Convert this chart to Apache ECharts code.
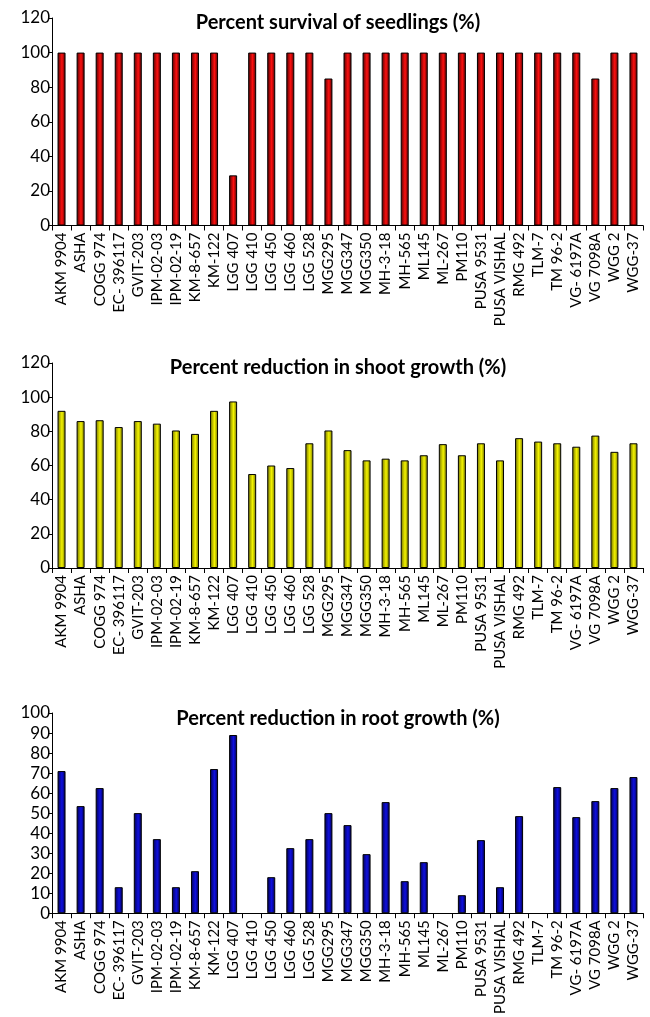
<!DOCTYPE html>
<html>
<head>
<meta charset="utf-8">
<script src="https://cdn.jsdelivr.net/npm/echarts@6/dist/echarts.min.js"></script>
<style>
  html, body { margin: 0; padding: 0; background: #fff; }
  #chart { width: 650px; height: 1017px; }
</style>
</head>
<body>
<div id="chart"></div>
<script>
const varieties = [
  'AKM 9904', 'ASHA', 'COGG 974', 'EC- 396117', 'GVIT-203', 'IPM-02-03', 'IPM-02-19',
  'KM-8-657', 'KM-122', 'LGG 407', 'LGG 410', 'LGG 450', 'LGG 460', 'LGG 528',
  'MGG295', 'MGG347', 'MGG350', 'MH-3-18', 'MH-565', 'ML145', 'ML-267', 'PM110',
  'PUSA 9531', 'PUSA VISHAL', 'RMG 492', 'TLM-7', 'TM 96-2', 'VG- 6197A', 'VG 7098A',
  'WGG 2', 'WGG-37'
];

const survival = [
  100, 100, 100, 100, 100, 100, 100, 100, 100, 29, 100, 100, 100, 100,
  85, 100, 100, 100, 100, 100, 100, 100, 100, 100, 100, 100, 100, 100, 85,
  100, 100
];

const shootReduction = [
  92, 86, 86.5, 82.5, 86, 84.5, 80.5, 78.5, 92, 97.5, 55, 60, 58.5, 73,
  80.5, 69, 63, 64, 63, 66, 72.5, 66, 73, 63, 76, 74, 73, 71, 77.5,
  68, 73
];

const rootReduction = [
  71, 53.5, 62.5, 13, 50, 37, 13, 21, 72, 89, 0, 18, 32.5, 37,
  50, 44, 29.5, 55.5, 16, 25.5, 0, 9, 36.5, 13, 48.5, 0, 63, 48, 56,
  62.5, 68
];

const titles = [
  'Percent survival of seedlings (%)',
  'Percent reduction in shoot growth (%)',
  'Percent reduction in root growth (%)'
];

const FONT = 'Lato';

function cylinder(dark, light) {
  return new echarts.graphic.LinearGradient(0, 0, 1, 0, [
    { offset: 0, color: dark },
    { offset: 0.55, color: light },
    { offset: 1, color: dark }
  ]);
}

// zero-height bars are left undrawn, as in the source figure
function barData(values) {
  return values.map(v => (v === 0 ? { value: 0, itemStyle: { borderWidth: 0, opacity: 0 } } : v));
}

const panels = [
  { data: survival, top: 18, height: 207.5, max: 120, interval: 20, color: cylinder('#4a0000', '#ff1010'), titleTop: 8 },
  { data: shootReduction, top: 363, height: 205, max: 120, interval: 20, color: cylinder('#6e6e00', '#f4f400'), titleTop: 353 },
  { data: rootReduction, top: 713, height: 206, max: 100, interval: 10, color: cylinder('#00004a', '#1010e0'), titleTop: 704 }
];

const chart = echarts.init(document.getElementById('chart'));

chart.setOption({
  animation: false,
  backgroundColor: '#fff',
  title: panels.map((p, i) => ({
    text: titles[i],
    left: 333,
    top: p.titleTop,
    textAlign: 'center',
    textStyle: { fontFamily: FONT, fontWeight: 'bold', fontSize: 20, color: '#000' }
  })),
  grid: panels.map(p => ({ left: 52, width: 591, top: p.top, height: p.height })),
  xAxis: panels.map((p, i) => ({
    type: 'category',
    gridIndex: i,
    data: varieties,
    axisLine: { lineStyle: { color: '#000', width: 1 } },
    axisTick: { show: true, length: 5, lineStyle: { color: '#000' } },
    axisLabel: {
      interval: 0,
      rotate: 90,
      margin: 7,
      fontFamily: FONT,
      fontSize: 15,
      color: '#000'
    },
    splitLine: { show: false }
  })),
  yAxis: panels.map((p, i) => ({
    type: 'value',
    gridIndex: i,
    min: 0,
    max: p.max,
    interval: p.interval,
    axisLine: { show: true, lineStyle: { color: '#000', width: 1 } },
    axisTick: { show: true, length: 4, lineStyle: { color: '#000' } },
    axisLabel: { fontFamily: FONT, fontSize: 17, color: '#000', margin: 2 },
    splitLine: { show: false }
  })),
  series: panels.map((p, i) => ({
    type: 'bar',
    xAxisIndex: i,
    yAxisIndex: i,
    data: barData(p.data),
    barWidth: 8,
    itemStyle: { color: p.color, borderColor: '#000', borderWidth: 1 }
  }))
});
</script>
</body>
</html>
